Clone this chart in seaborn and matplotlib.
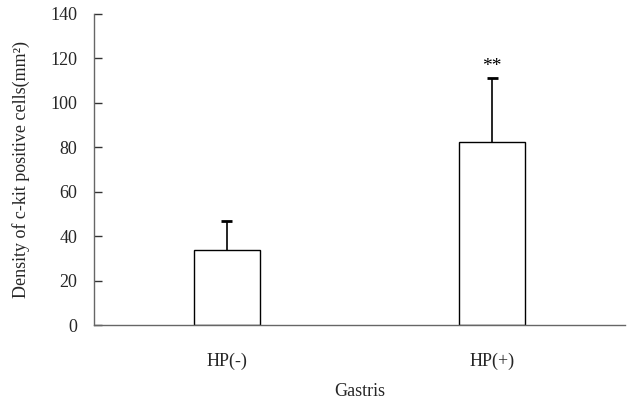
import matplotlib
matplotlib.use("Agg")
import matplotlib.pyplot as plt
import seaborn as sns
import pandas as pd
import numpy as np

categories = ["HP(-)", "HP(+)"]
means = [33.8, 82.3]
sd_upper = [12.8, 28.8]
y_ticks = [0, 20, 40, 60, 80, 100, 120, 140]

sns.set_theme(style="white")
plt.rcParams["font.family"] = ["Liberation Serif", "DejaVu Serif"]

df = pd.DataFrame({"group": categories, "density": means})

fig = plt.figure(figsize=(6.33, 4.01), dpi=100)
ax = fig.add_axes([94/633, 1-325/401, (625-94)/633, (325-14)/401])

sns.barplot(data=df, x="group", y="density", ax=ax, color="white",
            edgecolor="black", linewidth=1.0, width=0.25, errorbar=None)
for p in ax.patches:
    p.set_facecolor("white")

xs = np.arange(len(categories))
tops = np.array(means) + np.array(sd_upper)
ax.vlines(xs, means, tops, color="black", linewidth=1.2, zorder=3)
ax.hlines(tops, xs - 0.02, xs + 0.02, color="black", linewidth=2, zorder=3)

ax.text(1, tops[1] + 1.5, "**", ha="center", va="bottom",
        fontsize=14, color="black")

ax.set_xlim(-0.5, 1.5)
ax.set_ylim(0, 140)
ax.set_yticks(y_ticks)
ax.set_yticklabels([str(t) for t in y_ticks], fontsize=13)

ax.set_xticks([0.5, 1.5])
ax.set_xticklabels(["", ""])
ax.set_xticks(xs, minor=True)
ax.set_xticklabels(categories, minor=True, fontsize=13)
ax.tick_params(axis="x", which="major", direction="in", length=5, width=1, color="#444444")
ax.tick_params(axis="x", which="minor", length=0, pad=20)
ax.tick_params(axis="y", direction="in", length=6, width=1, color="#333333", pad=12, left=True)

for s in ["top", "right"]:
    ax.spines[s].set_visible(False)
for s in ["left", "bottom"]:
    ax.spines[s].set_color("#666666")
    ax.spines[s].set_linewidth(1.0)

ax.set_xlabel("Gastris", fontsize=13)
ax.set_ylabel("Density of c-kit positive cells(mm²)", fontsize=13)
ax.xaxis.set_label_coords(0.5, (325-383)/311)
ax.yaxis.set_label_coords((21-94)/531, 0.5)
ax.yaxis.label.set_va("center")
ax.xaxis.label.set_va("top")

fig.savefig("out.png", dpi=100, facecolor="white")
